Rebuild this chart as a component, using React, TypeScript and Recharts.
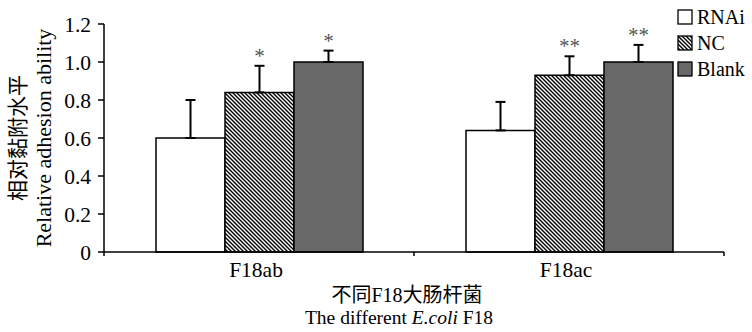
import React from 'react';
import { BarChart, Bar, XAxis, YAxis, ErrorBar, LabelList, Legend } from 'recharts';

const strains = ['F18ab', 'F18ac'];
const rnai = [0.6, 0.64];
const rnaiErr = [0.2, 0.15];
const nc = [0.84, 0.93];
const ncErr = [0.14, 0.1];
const blank = [1.0, 1.0];
const blankErr = [0.06, 0.09];
const ncMarks = ['*', '**'];
const blankMarks = ['*', '**'];
const yTicks = [0, 0.2, 0.4, 0.6, 0.8, 1.0, 1.2];
const seriesNames = ['RNAi', 'NC', 'Blank'];

const SERIF = "'Liberation Serif', 'Times New Roman', 'Noto Sans CJK SC', serif";
const FILLS = ['#ffffff', 'url(#hatch)', '#686868'];

const data = strains.map((name, i) => ({
  name,
  rnai: rnai[i],
  rnaiErr: [0, rnaiErr[i]],
  nc: nc[i],
  ncErr: [0, ncErr[i]],
  ncMark: ncMarks[i],
  blank: blank[i],
  blankErr: [0, blankErr[i]],
  blankMark: blankMarks[i],
}));

// asterisks sit just above the upper whisker
const star = (vals: number[], errs: number[]) => (p: any) => {
  const vb = p.viewBox ?? p;
  const { x, y, width, height } = vb;
  const i = p.index;
  if (!p.value || i == null) return null;
  const top = y - errs[i] * (height / vals[i]);
  return (
    <text x={x + width / 2} y={top - 3} textAnchor="middle" fontSize={21} fill="#555" fontFamily={SERIF}>
      {p.value}
    </text>
  );
};

const XTick = (p: any) => {
  const { x, y, payload, index } = p;
  const half = payload?.offset ?? 0;
  return (
    <g>
      <text x={x - 3} y={y + 25} textAnchor="middle" fontSize={21.5} fontFamily={SERIF} fill="#000">
        {payload.value}
      </text>
      <line x1={x + half} x2={x + half} y1={y} y2={y + 4} stroke="#000" strokeWidth={1.5} />
      {index === 0 && <line x1={x - half} x2={x - half} y1={y} y2={y + 4} stroke="#000" strokeWidth={1.5} />}
    </g>
  );
};

const XTitle = (p: any) => {
  const vb = p.viewBox;
  const cx = vb.x + vb.width / 2;
  return (
    <g fontFamily={SERIF} fill="#000" textAnchor="middle">
      <text x={cx - 7} y={vb.y + 50} fontSize={20}>不同F18大肠杆菌</text>
      <text x={cx - 15} y={vb.y + 72} fontSize={19.5}>
        The different <tspan fontStyle="italic">E.coli</tspan> F18
      </text>
    </g>
  );
};

const YTitle = (p: any) => {
  const vb = p.viewBox;
  const cy = vb.y + vb.height / 2;
  return (
    <g fontFamily={SERIF} fill="#000" textAnchor="middle">
      <text x={18} y={cy} fontSize={21} transform={`rotate(-90 18 ${cy})`} dominantBaseline="central">
        相对黏附水平
      </text>
      <text x={43} y={cy} fontSize={22} transform={`rotate(-90 43 ${cy})`} dominantBaseline="central">
        Relative adhesion ability
      </text>
    </g>
  );
};

const LegendBox = () => (
  <div style={{ fontFamily: SERIF, fontSize: 20, lineHeight: '26px', color: '#000' }}>
    {seriesNames.map((n, i) => (
      <div key={n} style={{ display: 'flex', alignItems: 'center', height: 26 }}>
        <svg width={18} height={16} style={{ marginRight: 2 }}>
          <rect x={1} y={1} width={14} height={14} fill={FILLS[i]} stroke="#000" strokeWidth={1.3} />
        </svg>
        {n}
      </div>
    ))}
  </div>
);

export default function App() {
  return (
    <div style={{ position: 'absolute', left: 0, top: 0, width: 752, height: 332, background: '#fff' }}>
      <BarChart
        width={752}
        height={332}
        data={data}
        margin={{ top: 24, right: 28, left: 0, bottom: 0 }}
        barCategoryGap={52}
        barGap={0}
      >
        <defs>
          <pattern id="hatch" width={4} height={4} patternUnits="userSpaceOnUse">
            <rect width={4} height={4} fill="#fff" />
            <path d="M-1,-1 L5,5 M-1,3 L1,5 M3,-1 L5,1" stroke="#000" strokeWidth={1.4} />
          </pattern>
        </defs>
        <XAxis
          dataKey="name"
          height={80}
          axisLine={{ stroke: '#000', strokeWidth: 1.5 }}
          tickLine={false}
          tickSize={0}
          tickMargin={0}
          tick={<XTick />}
          label={{ content: <XTitle /> }}
        />
        <YAxis
          width={104}
          domain={[0, 1.2]}
          ticks={yTicks}
          interval={0}
          tickFormatter={(v: number) => (v === 0 ? '0' : v.toFixed(1))}
          axisLine={{ stroke: '#000', strokeWidth: 1.5 }}
          tickLine={{ stroke: '#000', strokeWidth: 1.5 }}
          tickSize={6}
          tickMargin={7}
          tick={{ fill: '#000', fontSize: 21.5, fontFamily: SERIF }}
          label={{ content: <YTitle /> }}
        />
        <Legend
          layout="vertical"
          align="center"
          verticalAlign="middle"
          content={<LegendBox />}
          wrapperStyle={{ left: 677, top: 4, width: 75 }}
        />
        <Bar dataKey="rnai" fill={FILLS[0]} stroke="#000" strokeWidth={1.5} isAnimationActive={false}>
          <ErrorBar dataKey="rnaiErr" width={5} stroke="#000" strokeWidth={2} />
        </Bar>
        <Bar dataKey="nc" fill={FILLS[1]} stroke="#000" strokeWidth={1.5} isAnimationActive={false}>
          <ErrorBar dataKey="ncErr" width={5} stroke="#000" strokeWidth={2} />
          <LabelList dataKey="ncMark" content={star(nc, ncErr)} />
        </Bar>
        <Bar dataKey="blank" fill={FILLS[2]} stroke="#000" strokeWidth={1.5} isAnimationActive={false}>
          <ErrorBar dataKey="blankErr" width={5} stroke="#000" strokeWidth={2} />
          <LabelList dataKey="blankMark" content={star(blank, blankErr)} />
        </Bar>
      </BarChart>
    </div>
  );
}
